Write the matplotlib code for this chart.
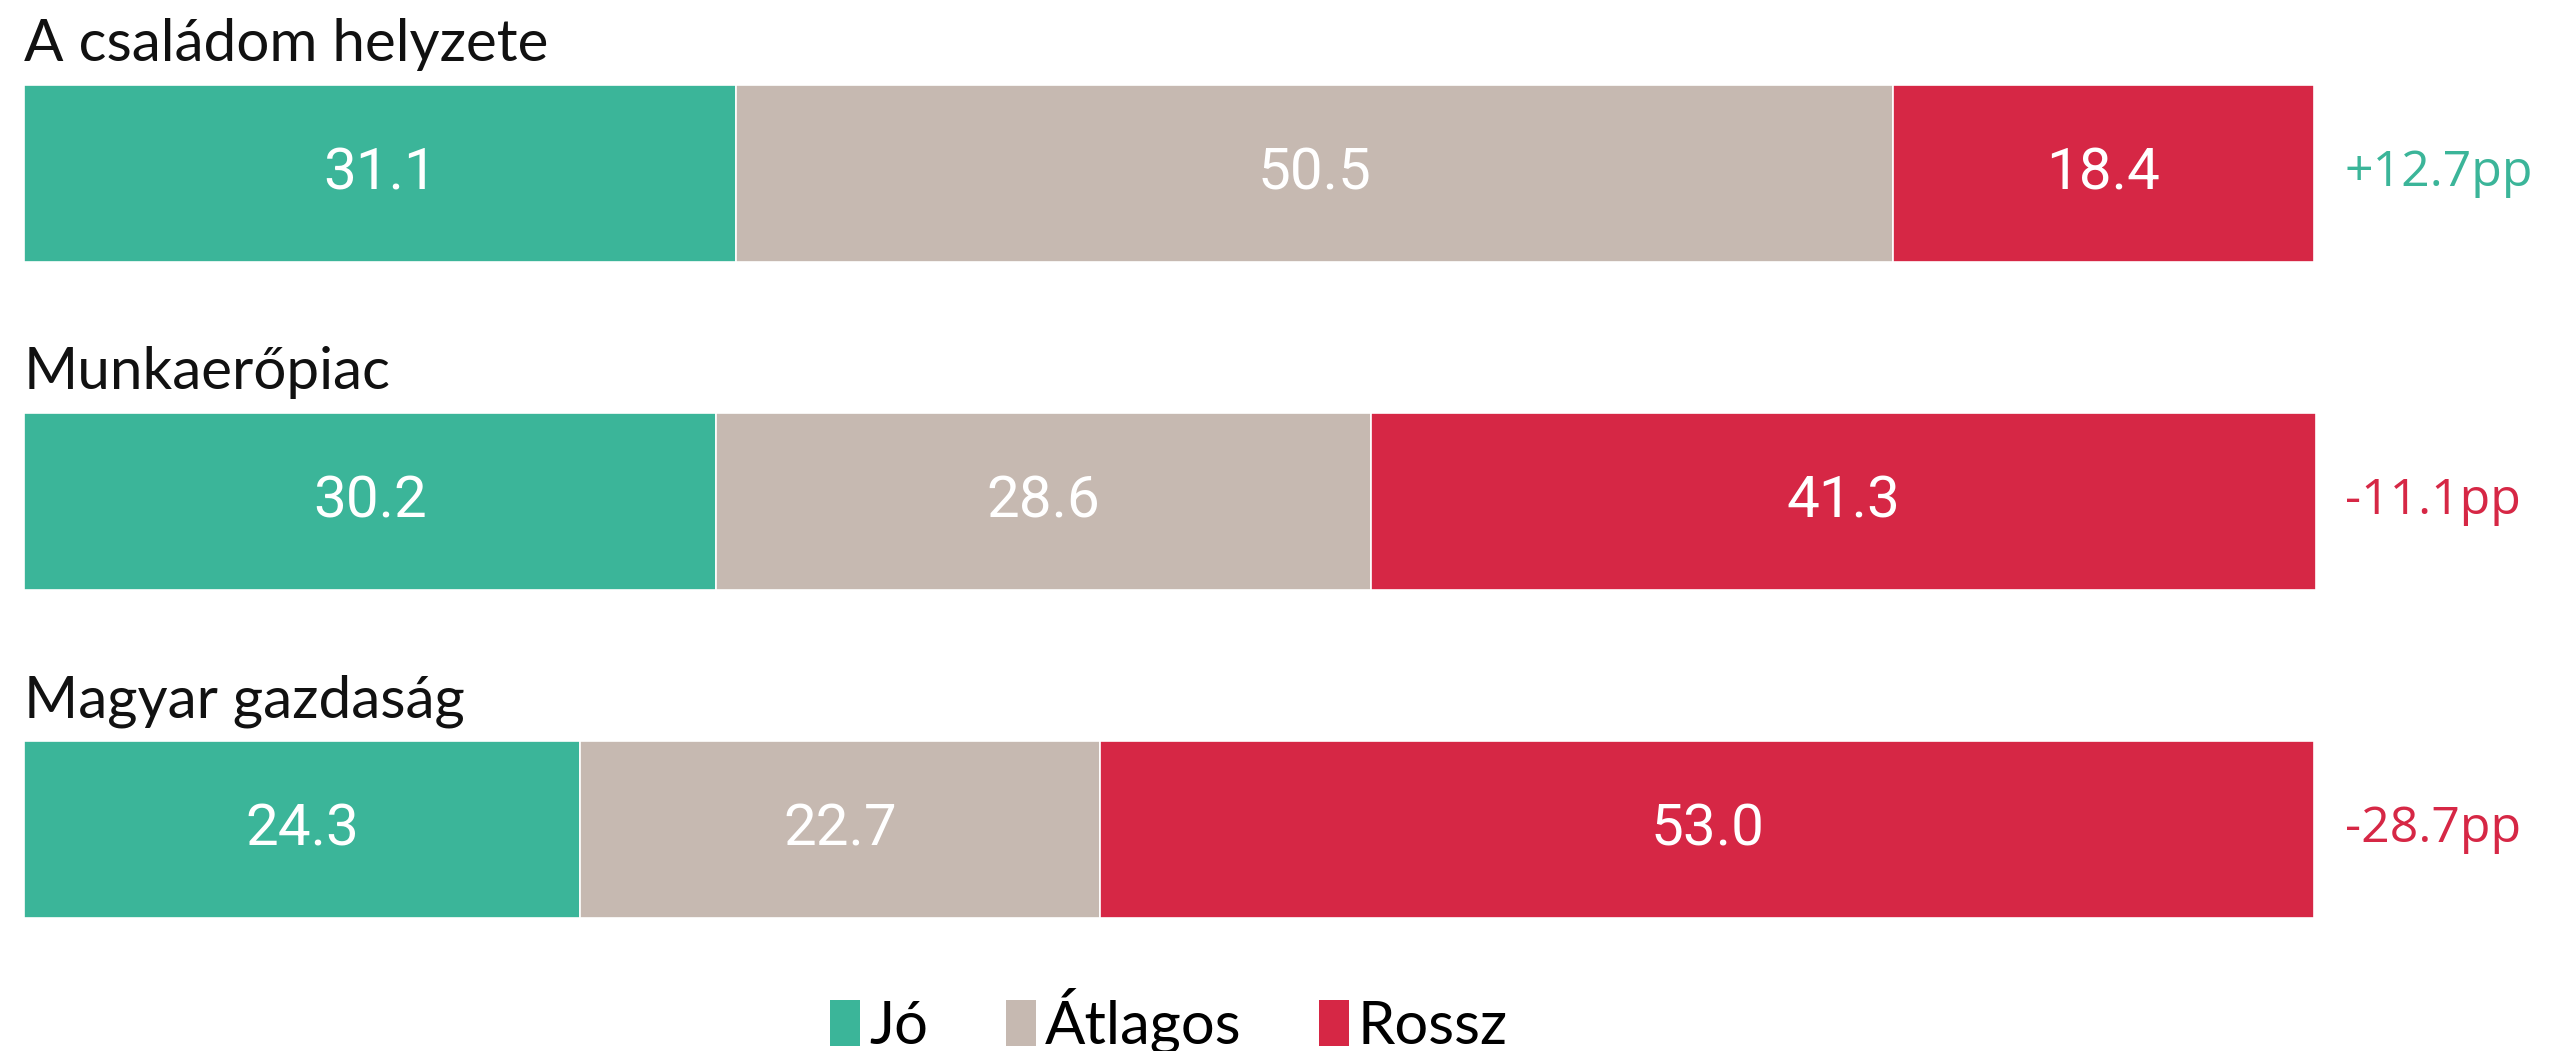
import matplotlib
matplotlib.use('Agg')
import numpy as np
import matplotlib.pyplot as plt
from matplotlib.patches import Patch

categories = ['A családom helyzete', 'Munkaerőpiac', 'Magyar gazdaság']
series = ['Jó', 'Átlagos', 'Rossz']
jo = [31.1, 30.2, 24.3]
atlagos = [50.5, 28.6, 22.7]
rossz = [18.4, 41.3, 53.0]
diff_labels = ['+12.7pp', '-11.1pp', '-28.7pp']

colors = ['#3bb599', '#c6b9b1', '#d62745']

W, H = 2562, 1051
fig = plt.figure(figsize=(W / 100, H / 100), dpi=100)
ax = fig.add_axes([0, 0, 1, 1])

# pixel layout: bar from x=24 to x=2314 covers 0..100
x0, x1 = 24, 2314
scale = (x1 - x0) / 100.0
ax.set_xlim(-x0 / scale, (W - x0) / scale)
ax.set_ylim(H, 0)
ax.axis('off')

bar_top0, bar_h, step = 85, 177, 328
ys = [bar_top0 + bar_h / 2 + i * step for i in range(len(categories))]

vals = np.array([jo, atlagos, rossz])
left = np.zeros(len(categories))
for k, name in enumerate(series):
    ax.barh(ys, vals[k], left=left, height=bar_h, color=colors[k],
            edgecolor='white', linewidth=1.2)
    for y, l, v in zip(ys, left, vals[k]):
        ax.text(l + v / 2, y, f'{v:.1f}', color='white', fontsize=42,
                ha='center', va='center',
                family=['Liberation Sans Narrow', 'Roboto', 'DejaVu Sans'])
    left = left + vals[k]

for y, cat, d in zip(ys, categories, diff_labels):
    ax.text(0, y - bar_h / 2 - 24, cat, fontsize=42, ha='left', va='baseline',
            color='#111111', family=['Lato', 'DejaVu Sans'])
    c = colors[0] if d.startswith('+') else colors[2]
    ax.text(100 + 31 / scale, y, d, fontsize=36, ha='left', va='center',
            color=c, family=['Open Sans', 'DejaVu Sans'])

handles = [Patch(facecolor=c, edgecolor='none') for c in colors]
leg = fig.legend(handles, series, loc='center', bbox_to_anchor=(1169 / W, 1 - 1021 / H),
                 ncol=3, frameon=False, handlelength=0.5,
                 handleheight=0.8, handletextpad=0.15, columnspacing=1.3,
                 prop={'family': 'Lato', 'size': 43})

fig.savefig('out.png', dpi=100, facecolor='white')
